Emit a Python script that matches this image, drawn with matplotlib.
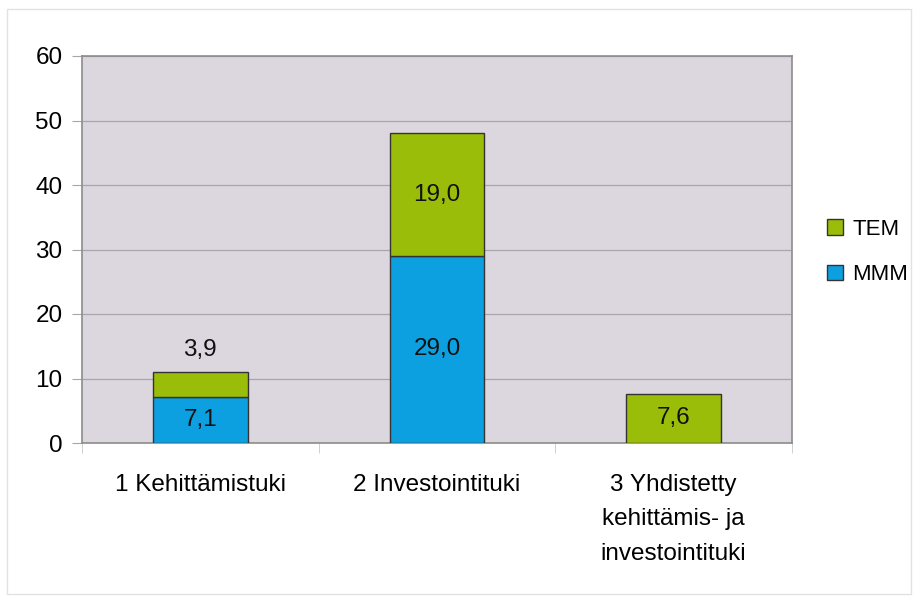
import matplotlib.pyplot as plt
from matplotlib.patches import Patch, Rectangle

categories = ['1 Kehittämistuki', '2 Investointituki',
              '3 Yhdistetty\nkehittämis- ja\ninvestointituki']
mmm = [7.1, 29.0, 0.0]
tem = [3.9, 19.0, 7.6]

C_MMM = '#0DA0E0'
C_TEM = '#9ABD0A'
BG = '#DCD6DE'
GRID = '#A9A5AB'
SPINE = '#8C8C8C'

plt.rcParams['font.family'] = ['Liberation Sans', 'DejaVu Sans']

fig = plt.figure(figsize=(9.14, 5.97), dpi=100)
ax = fig.add_axes([82 / 914, 1 - 443 / 597, 710 / 914, 387 / 597])
ax.set_facecolor(BG)

x = list(range(len(categories)))
w = 0.4
ax.bar(x, mmm, w, color=C_MMM, edgecolor='#333333', lw=1.0, zorder=3)
ax.bar(x, tem, w, bottom=mmm, color=C_TEM, edgecolor='#333333', lw=1.0, zorder=3)

fs = 17.5
for i in x:
    if mmm[i] > 0:
        ax.text(i, mmm[i] / 2, f'{mmm[i]:.1f}'.replace('.', ','),
                ha='center', va='center', fontsize=fs, color='#111111', zorder=4)
    if tem[i] >= 5:
        ytxt = mmm[i] + tem[i] / 2
    else:
        ytxt = mmm[i] + tem[i] + 3.4
    ax.text(i, ytxt, f'{tem[i]:.1f}'.replace('.', ','),
            ha='center', va='center', fontsize=fs, color='#111111', zorder=4)

ax.set_xlim(-0.5, 2.5)
ax.set_ylim(0, 60)
ax.set_yticks(range(0, 61, 10))
ax.yaxis.grid(True, color=GRID, lw=0.9, zorder=1)
ax.tick_params(axis='y', length=7, color=GRID, labelsize=fs, pad=7)

ax.set_xticks(x)
ax.set_xticklabels(categories, fontsize=fs, linespacing=1.75)
ax.tick_params(axis='x', which='major', length=0, pad=22)
ax.set_xticks([-0.5, 0.5, 1.5, 2.5], minor=True)
ax.tick_params(axis='x', which='minor', length=7, color='#C8C8C8')

for s in ax.spines.values():
    s.set_color(SPINE)
    s.set_linewidth(1.2)

handles = [Patch(facecolor=C_TEM, edgecolor='#333333', label='TEM'),
           Patch(facecolor=C_MMM, edgecolor='#333333', label='MMM')]
fig.legend(handles=handles, loc='center left', bbox_to_anchor=(827 / 914, 1 - 252 / 597),
           frameon=False, fontsize=16, handlelength=0.7, handleheight=0.7,
           handletextpad=0.45, labelspacing=1.12, borderpad=0, borderaxespad=0)

fig.patches.append(Rectangle((7 / 914, 3 / 597), 904 / 914, 585 / 597,
                             transform=fig.transFigure, fill=False,
                             edgecolor='#E2E2E2', lw=1.0))

fig.savefig('out.png', dpi=100)
